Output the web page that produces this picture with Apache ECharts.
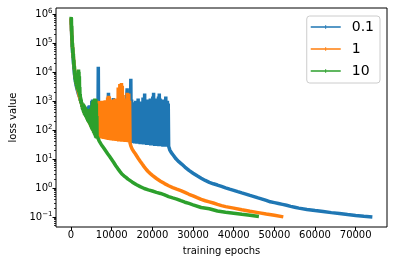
<!DOCTYPE html>
<html>
<head>
<meta charset="utf-8">
<script src="https://cdn.jsdelivr.net/npm/echarts@6/dist/echarts.min.js"></script>
<style>
html,body{margin:0;padding:0;background:#fff;}
#chart{width:394px;height:264px;}
</style>
</head>
<body>
<div id="chart"></div>
<script>
// ---------- data (epoch, loss) ----------
const seriesNames = ['0.1', '1', '10'];
const xTickValues = [0, 10000, 20000, 30000, 40000, 50000, 60000, 70000];
const yTickValues = [0.1, 1, 10, 100, 1000, 10000, 100000, 1000000];

// lr = 0.1 (blue)
const blueStart = [[0,650000],[60,400000],[120,250000],[200,120000],[300,70000],[400,45000],[520,28000],[640,18000],[760,11000],[880,7500],[1000,5500],[1150,4000],[1300,3200],[1450,2600],[1600,2200],[1750,1800],[1900,1600],[2050,1400],[2200,1200],[2350,1000],[2500,880],[2650,760],[2800,650],[2950,560],[3100,600],[3200,420],[3300,550],[3400,380],[3500,500],[3600,330],[3700,460],[3800,300],[3900,430],[4000,270],[4100,600],[4200,240],[4300,650],[4400,220],[4500,700],[4600,200],[4700,620],[4800,180],[4900,500],[5000,160],[5100,1000],[5200,140],[5300,1100],[5400,120],[5500,1050],[5600,110],[5700,1100],[5800,100],[5900,900],[6000,90],[6100,950],[6200,80],[6300,900]];
const blueBandA = [[6400,60],[6500,700],[6600,60],[6700,15000],[6800,60],[6900,800],[7000,59],[7200,750],[7400,58],[7600,800],[7800,57],[8000,700],[8200,56],[8400,850],[8600,55],[8800,800],[9000,54],[9200,1900],[9400,53],[9600,800],[9800,52],[10000,750],[10200,51],[10400,1250],[10600,50],[10800,800],[11000,49],[11200,850],[11400,48],[11600,750],[11800,47],[12000,800],[12200,46],[12400,850],[12600,45],[12800,800],[13000,45],[13200,750],[13400,44],[13600,800],[13800,2700],[14000,43],[14200,900],[14400,42]];
const blueBandB = [[14500,1000],[14600,36],[14700,5800],[14800,36],[14900,1100],[15000,35],[15100,850],[15200,35],[15300,780],[15400,35],[15500,900],[15600,34],[15700,800],[15800,34],[15900,1000],[16000,34],[16100,820],[16200,33],[16300,850],[16400,33],[16500,1200],[16600,33],[16700,780],[16800,33],[16900,900],[17000,32],[17100,820],[17200,32],[17300,950],[17400,32],[17500,850],[17600,32],[17700,1300],[17800,31],[17900,900],[18000,31],[18100,1800],[18200,31],[18300,950],[18400,31],[18500,800],[18600,30],[18700,900],[18800,30],[18900,1100],[19000,30],[19100,850],[19200,30],[19300,950],[19400,30],[19500,1200],[19600,29],[19700,880],[19800,29],[19900,1000],[20000,29],[20100,1400],[20200,29],[20300,1900],[20400,29],[20500,1000],[20600,28],[20700,900],[20800,28],[20900,1200],[21000,28],[21100,900],[21200,28],[21300,1100],[21400,28],[21500,1400],[21600,27],[21700,1800],[21800,27],[21900,1200],[22000,27],[22100,900],[22200,27],[22300,1000],[22400,27],[22500,880],[22600,26],[22700,1100],[22800,26],[22900,900],[23000,26],[23100,850],[23200,26],[23300,1400],[23400,26],[23500,950],[23600,26],[23700,1000],[23800,26],[23900,800],[24000,27]];
const blueTail = [[24300,20],[24700,16],[25200,13],[25800,10],[26500,8],[27200,6.6],[28000,5.2],[29000,4],[30000,3.2],[31000,2.6],[32000,2.15],[33000,1.8],[34000,1.55],[35000,1.38],[36000,1.25],[37000,1.12],[38000,1.0],[39000,0.9],[40000,0.82],[41000,0.74],[42000,0.67],[43000,0.61],[44000,0.55],[45000,0.5],[46000,0.45],[47000,0.41],[48000,0.37],[49000,0.33],[50000,0.31],[51000,0.29],[52000,0.27],[53000,0.25],[54000,0.23],[55000,0.215],[56000,0.2],[58000,0.18],[60000,0.165],[62000,0.152],[64000,0.14],[66000,0.13],[68000,0.12],[70000,0.112],[72000,0.105],[74100,0.099]];

// lr = 1 (orange)
const orangeStart = [[0,700000],[100,300000],[200,150000],[400,60000],[600,30000],[800,15000],[1000,8000],[1200,5000],[1400,3500],[1600,2600],[1800,2000],[2000,1500],[2200,1200],[2400,950],[2600,800],[2800,650],[3000,550],[3300,400],[3600,330],[4000,250],[4500,180],[5000,130],[5500,95],[6000,70],[6350,55]];
const orangeBand = [[6400,1000],[6500,55],[6600,950],[6700,54],[6800,900],[6900,53],[7000,980],[7100,52],[7200,870],[7300,51],[7400,940],[7500,50],[7600,1000],[7700,50],[7800,880],[7900,49],[8000,960],[8100,48],[8200,900],[8300,48],[8400,1050],[8500,47],[8600,920],[8700,47],[8800,1000],[8900,46],[9000,1300],[9100,46],[9200,1500],[9300,45],[9400,1400],[9500,45],[9600,1000],[9700,44],[9800,900],[9900,44],[10000,980],[10100,43],[10200,1100],[10300,43],[10400,950],[10500,42],[10600,1000],[10700,42],[10800,1200],[10900,42],[11000,950],[11100,41],[11200,1000],[11300,41],[11400,1100],[11500,41],[11600,2900],[11700,40],[11800,1500],[11900,40],[12000,3800],[12100,40],[12200,2500],[12300,40],[12400,4100],[12500,39],[12600,3300],[12700,39],[12800,1600],[12900,39],[13000,1100],[13100,39],[13200,1000],[13300,38],[13400,1200],[13500,38],[13600,1000],[13700,38],[13800,1900],[13900,38],[14000,1400],[14100,37],[14200,1800],[14300,37],[14400,1000],[14500,36]];
const orangeTail = [[14700,28],[15000,22],[15400,18],[15800,15],[16500,10.5],[17000,8.3],[17500,6.6],[18000,5.3],[18500,4.3],[19000,3.6],[19500,3.1],[20000,2.7],[21000,2.1],[22000,1.7],[23000,1.4],[24000,1.18],[25000,1.02],[26000,0.9],[27000,0.8],[28000,0.7],[29000,0.6],[30000,0.53],[31000,0.46],[32000,0.4],[33000,0.36],[34000,0.33],[35000,0.3],[36000,0.27],[37000,0.245],[38000,0.225],[40000,0.2],[42000,0.175],[44000,0.155],[46000,0.14],[48000,0.125],[50000,0.113],[52200,0.1]];

// lr = 10 (green)
const greenStart = [[0,650000],[30,780000],[60,420000],[90,700000],[130,250000],[170,380000],[210,120000],[250,180000],[300,70000],[350,100000],[400,45000],[460,70000],[520,30000],[580,42000],[640,18000],[700,26000],[760,12000],[820,16000],[880,8000],[940,11000],[1000,5500],[1060,7500],[1120,4500],[1180,6000],[1240,3800],[1300,5000],[1360,3200],[1420,4200],[1480,2800],[1540,3500],[1600,2500],[1650,6000],[1700,3000],[1750,9000],[1800,2200],[1850,12000],[1900,2000],[1950,10000],[2000,1800],[2050,7000],[2100,1600],[2150,3000],[2200,1300],[2260,1700],[2320,1000],[2380,1300],[2440,850],[2500,1100],[2560,750],[2620,900],[2680,600],[2740,750],[2800,520],[2860,650]];
const greenBand = [[2920,480],[2980,800],[3040,420],[3100,750],[3160,380],[3220,700],[3280,340],[3340,650],[3400,320],[3460,600],[3520,300],[3580,560],[3640,280],[3700,520],[3760,260],[3820,480],[3880,240],[3940,460],[4000,220],[4060,430],[4120,200],[4180,420],[4240,190],[4300,400],[4360,180],[4420,480],[4480,170],[4540,520],[4600,160],[4660,500],[4720,145],[4780,480],[4840,130],[4900,550],[4960,120],[5020,600],[5080,110],[5140,700],[5200,100],[5260,900],[5320,95],[5380,1000],[5440,90],[5500,1050],[5560,80],[5620,900],[5680,75],[5740,1100],[5800,68],[5860,1200],[5920,62],[5980,1000],[6040,56],[6100,1150],[6160,52],[6220,800],[6280,50],[6340,300],[6400,60]];
const greenTail = [[6500,55],[6900,42],[7500,30],[8000,24],[8500,19],[9000,15],[9500,12],[10000,9.5],[10500,7.5],[11000,5.8],[11500,4.6],[12000,3.7],[12500,3.0],[13000,2.6],[13500,2.3],[14000,2.0],[15000,1.6],[16000,1.3],[17000,1.1],[18000,0.95],[19000,0.85],[20000,0.78],[21000,0.7],[22000,0.64],[23000,0.57],[24000,0.5],[25000,0.45],[26000,0.41],[27000,0.36],[28000,0.32],[29000,0.29],[30000,0.26],[32000,0.21],[34000,0.19],[36000,0.16],[38000,0.145],[40000,0.133],[42000,0.122],[44000,0.113],[46200,0.102]];

const loss01 = blueStart.concat(blueBandA, blueBandB, blueTail);
const loss1 = orangeStart.concat(orangeBand, orangeTail);
const loss10 = greenStart.concat(greenBand, greenTail);

// ---------- chart ----------
const FONT = 'DejaVu Sans';
const yMin = 0.0447, yMax = 1.585e6;
const logMin = Math.log10(yMin), logMax = Math.log10(yMax);
// minor tick positions (2..9 x 10^k) expressed as exponents for a hidden helper axis
const minorTickExps = [];
for (let k = -2; k <= 6; k++) {
  for (let m = 2; m <= 9; m++) {
    const e = Math.log10(m) + k;
    if (e > logMin && e < logMax) minorTickExps.push(e);
  }
}
function expLabel(v) {
  const e = Math.round(Math.log10(v));
  return '{b|10}{s|' + (e < 0 ? '\u2212' + (-e) : e) + '}';
}
const chart = echarts.init(document.getElementById('chart'), null, {renderer: 'canvas'});
const colors = ['#1f77b4', '#ff7f0e', '#2ca02c'];
const datasets = [loss01, loss1, loss10];
chart.setOption({
  animation: false,
  color: colors,
  grid: {left: 53, right: 7, top: 8, bottom: 37, show: true, borderColor: '#000', borderWidth: 1, backgroundColor: 'transparent'},
  legend: {
    orient: 'vertical', right: 14, top: 16,
    data: seriesNames,
    icon: 'path://M0,1.25H30V2.75H0Z M14.6,0H15.4V4H14.6Z',
    itemWidth: 30, itemHeight: 4, itemGap: 8,
    padding: [4, 6, 5, 4],
    backgroundColor: '#fff', borderColor: '#cccccc', borderWidth: 1, borderRadius: 3,
    itemStyle: {borderWidth: 0},
    textStyle: {fontFamily: FONT, fontSize: 14, color: '#000', padding: [0, 0, 0, 6]}
  },
  xAxis: {
    type: 'value', min: -3700, max: 77700, position: 'bottom',
    name: 'training epochs', nameLocation: 'middle', nameGap: 19,
    nameTextStyle: {fontFamily: FONT, fontSize: 10, color: '#000'},
    axisLine: {show: false, onZero: false},
    splitLine: {show: false},
    axisTick: {show: true, inside: false, length: 3.5, customValues: xTickValues, lineStyle: {color: '#000', width: 1}},
    axisLabel: {customValues: xTickValues, margin: 3.5, fontFamily: FONT, fontSize: 10, color: '#000', formatter: v => String(v)}
  },
  yAxis: [{
    type: 'log', min: yMin, max: yMax, logBase: 10, position: 'left',
    name: 'loss value', nameLocation: 'middle', nameGap: 38, nameRotate: 90,
    nameTextStyle: {fontFamily: FONT, fontSize: 10, color: '#000'},
    axisLine: {show: false, onZero: false},
    splitLine: {show: false},
    axisTick: {show: true, inside: false, length: 3.5, customValues: yTickValues, lineStyle: {color: '#000', width: 1}},
    axisLabel: {
      customValues: yTickValues, margin: 3.5, formatter: expLabel,
      rich: {
        b: {fontFamily: FONT, fontSize: 10, color: '#000', lineHeight: 12, verticalAlign: 'bottom'},
        s: {fontFamily: FONT, fontSize: 7, color: '#000', lineHeight: 12, verticalAlign: 'top'}
      }
    }
  }, {
    type: 'value', min: logMin, max: logMax, position: 'left', offset: 0,
    axisLine: {show: false, onZero: false}, splitLine: {show: false}, axisLabel: {show: false},
    axisTick: {show: true, inside: false, length: 2, customValues: minorTickExps, lineStyle: {color: '#000', width: 0.8}}
  }],
  series: datasets.map((d, i) => ({
    name: seriesNames[i], type: 'line', data: d,
    yAxisIndex: 0, showSymbol: false, symbol: 'none', sampling: null,
    lineStyle: {width: 3.5, color: colors[i]}, itemStyle: {color: colors[i]},
    silent: true, z: 2 + i
  }))
});
</script>
</body>
</html>
